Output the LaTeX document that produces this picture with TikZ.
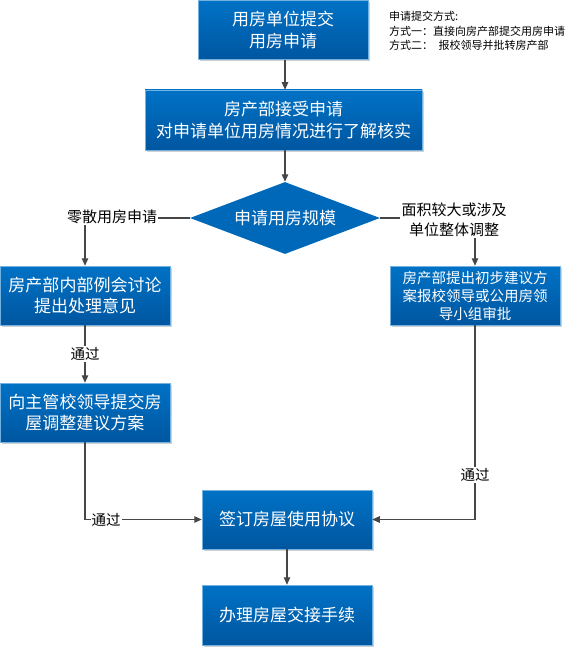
\documentclass[tikz,border=0pt]{standalone}
\usepackage{fontspec}
\setmainfont{Noto Sans CJK SC}
\usetikzlibrary{shapes.geometric,arrows.meta,shadows}
\definecolor{btop}{RGB}{0,114,198}
\definecolor{bbot}{RGB}{0,86,160}
\definecolor{dia}{RGB}{0,104,184}
\definecolor{ln}{RGB}{70,70,70}
\begin{document}
\begin{tikzpicture}[x=1pt,y=-1pt,
  box/.style={rectangle, top color=btop, bottom color=bbot, draw=btop!55!white, line width=0.5pt,
    text=white, align=center, inner sep=0pt, minimum width=170pt, minimum height=59pt,
    font=\fontsize{17}{21.5}\selectfont,
    drop shadow={shadow xshift=2pt, shadow yshift=-2pt, fill=black!18, opacity=1}},
  smallbox/.style={box, font=\fontsize{14.5}{18}\selectfont},
  decision/.style={diamond, fill=dia, text=white, inner sep=0pt, aspect=2.64,
    minimum width=190pt, minimum height=72pt, font=\fontsize{17}{21}\selectfont},
  lbl/.style={font=\fontsize{15}{20}\selectfont, align=center, inner sep=1pt, text=black},
  passlbl/.style={font=\fontsize{14.5}{18}\selectfont, fill=white, inner sep=1pt, text=black},
  note/.style={font=\fontsize{11}{13}\selectfont, anchor=west, inner sep=0pt, text=black},
  conn/.style={draw=ln, line width=1.1pt},
  arr/.style={conn, -{Triangle[length=7.5pt,width=6.5pt]}}
]
\useasboundingbox (0,0) rectangle (570,647);

\node[box] (b1) at (283,30) {用房单位提交\\用房申请};
\node[box, minimum width=277pt, minimum height=60pt] (b2) at (283.5,120) {房产部接受申请\\对申请单位用房情况进行了解核实};
\node[decision] (d) at (285,218) {申请用房规模};
\node[box] (b3) at (85,295.5) {房产部内部例会讨论\\提出处理意见};
\node[smallbox] (b4) at (475,295.5) {房产部提出初步建议方\\案报校领导或公用房领\\导小组审批};
\node[box] (b5) at (85,412.5) {向主管校领导提交房\\屋调整建议方案};
\node[box] (b6) at (287,519.5) {签订房屋使用协议};
\node[box, minimum height=60pt] (b7) at (287,615) {办理房屋交接手续};

\node[lbl] (l1) at (112,217) {零散用房申请};
\node[lbl] (l2) at (454,220) {面积较大或涉及\\单位整体调整};

\node[note] (n1) at (389,16) {申请提交方式:};
\node[note] (n2) at (389,31) {方式一：直接向房产部提交用房申请};
\node[note] (n3) at (389,45) {方式二：\hspace{3pt} 报校领导并批转房产部};

\draw[arr] (b1.south -| 285,0) -- (b2.north -| 285,0);
\draw[arr] (b2.south -| d.north) -- (d.north);
\draw[conn] (d.west) -- (d.west -| l1.east);
\draw[conn] (d.east) -- (d.east -| l2.west);
\draw[arr] (l1.south -| b3.north) -- (b3.north);
\draw[arr] (l2.south -| b4.north) -- (b4.north);
\draw[arr] (b3.south) -- node[passlbl] (p1) {通过} (b5.north);
\coordinate (cl) at (b5.south |- b6.west);
\coordinate (cr) at (b4.south |- b6.east);
\draw[arr] (b5.south) -- (cl) -- (b6.west);
\node[passlbl] (p2) at (106,519.5) {通过};
\draw[arr] (b4.south) -- (cr) -- (b6.east);
\node[passlbl] (p3) at (475,475) {通过};
\draw[arr] (b6.south) -- (b7.north);
\end{tikzpicture}
\end{document}
